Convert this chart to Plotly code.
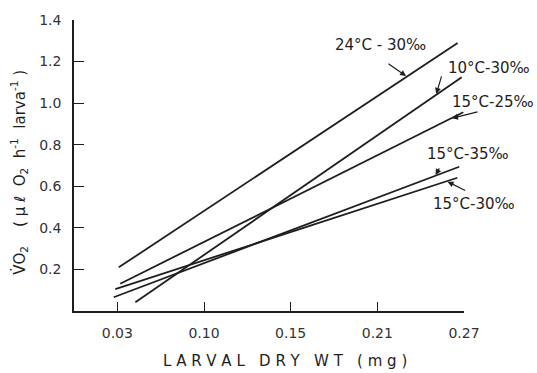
import plotly.graph_objects as go

# Regression lines (start / end points)
series = ["24°C - 30‰", "10°C-30‰", "15°C-25‰", "15°C-35‰", "15°C-30‰"]
wt_start = [0.031, 0.0425, 0.032, 0.0275, 0.0286]
wt_end = [0.2656, 0.2684, 0.2695, 0.2667, 0.2654]
vo2_start = [0.210, 0.042, 0.131, 0.066, 0.105]
vo2_end = [1.289, 1.125, 0.956, 0.694, 0.641]

x_tickvals = [0.03, 0.09, 0.15, 0.21, 0.27]
x_ticktext = ["0.03", "0.10", "0.15", "0.21", "0.27"]
y_tickvals = [0.2, 0.4, 0.6, 0.8, 1.0, 1.2, 1.4]
y_ticktext = ["0.2", "0.4", "0.6", "0.8", "1.0", "1.2", "1.4"]

# label placement (paper coords) and arrow target weight
label_px = [0.785, 1.065, 1.075, 1.009, 1.026]
label_py = [0.913, 0.836, 0.719, 0.538, 0.368]
arrow_wt = [0.2305, 0.2506, 0.2610, 0.2500, 0.2580]
arrow_ax = [-20, 6, 28, 5, 20]
arrow_ay = [-14, -20, -7, -9, 10]

FONT = "DejaVu Sans"
INK = "#1e1e1e"

fig = go.Figure()
for i, name in enumerate(series):
    fig.add_trace(go.Scatter(
        x=[wt_start[i], wt_end[i]], y=[vo2_start[i], vo2_end[i]],
        mode="lines", name=name, showlegend=False,
        line=dict(color=INK, width=1.8),
    ))

annotations = []
for i, name in enumerate(series):
    annotations.append(dict(
        x=label_px[i], y=label_py[i], xref="paper", yref="paper", text=name,
        xanchor="center", yanchor="middle",
        showarrow=False, font=dict(family=FONT, size=15, color=INK),
    ))
    slope = (vo2_end[i] - vo2_start[i]) / (wt_end[i] - wt_start[i])
    ty = vo2_start[i] + slope * (arrow_wt[i] - wt_start[i])
    annotations.append(dict(
        x=arrow_wt[i], y=ty, xref="x", yref="y", text="",
        showarrow=True, arrowhead=2, arrowsize=1, arrowwidth=1.2,
        arrowcolor=INK, ax=arrow_ax[i], ay=arrow_ay[i], standoff=1,
    ))

annotations.append(dict(
    x=0.541, y=-0.171, xref="paper", yref="paper",
    xanchor="center", yanchor="middle",
    text="L A R V A L   D R Y   W T   ( m g )", showarrow=False,
    font=dict(family=FONT, size=15, color=INK),
))
annotations.append(dict(
    x=-0.141, y=0.475, xref="paper", yref="paper", textangle=-90,
    xanchor="center", yanchor="middle",
    text="V\u0307O<sub>2</sub>    ( μ ℓ  O<sub>2</sub>  h<sup>-1</sup>  larva<sup>-1</sup> )",
    showarrow=False, font=dict(family=FONT, size=15, color=INK),
))

fig.update_layout(
    width=537, height=373,
    margin=dict(l=74, r=73, t=12, b=62),
    paper_bgcolor="white", plot_bgcolor="white",
    annotations=annotations,
    xaxis=dict(
        range=[0, 0.27], showgrid=False, zeroline=False,
        showline=True, linecolor=INK, linewidth=1.5,
        ticks="inside", ticklen=9, tickwidth=1.3, tickcolor=INK,
        tickvals=x_tickvals, ticktext=x_ticktext, ticklabelstandoff=8,
        tickfont=dict(family=FONT, size=14, color="#333"),
    ),
    yaxis=dict(
        range=[0, 1.4], showgrid=False, zeroline=False,
        showline=True, linecolor=INK, linewidth=1.5,
        ticks="inside", ticklen=10, tickwidth=1.3, tickcolor=INK,
        tickvals=y_tickvals, ticktext=y_ticktext, ticklabelstandoff=8,
        tickfont=dict(family=FONT, size=14, color="#333"),
    ),
)

fig.write_html("out.html")
